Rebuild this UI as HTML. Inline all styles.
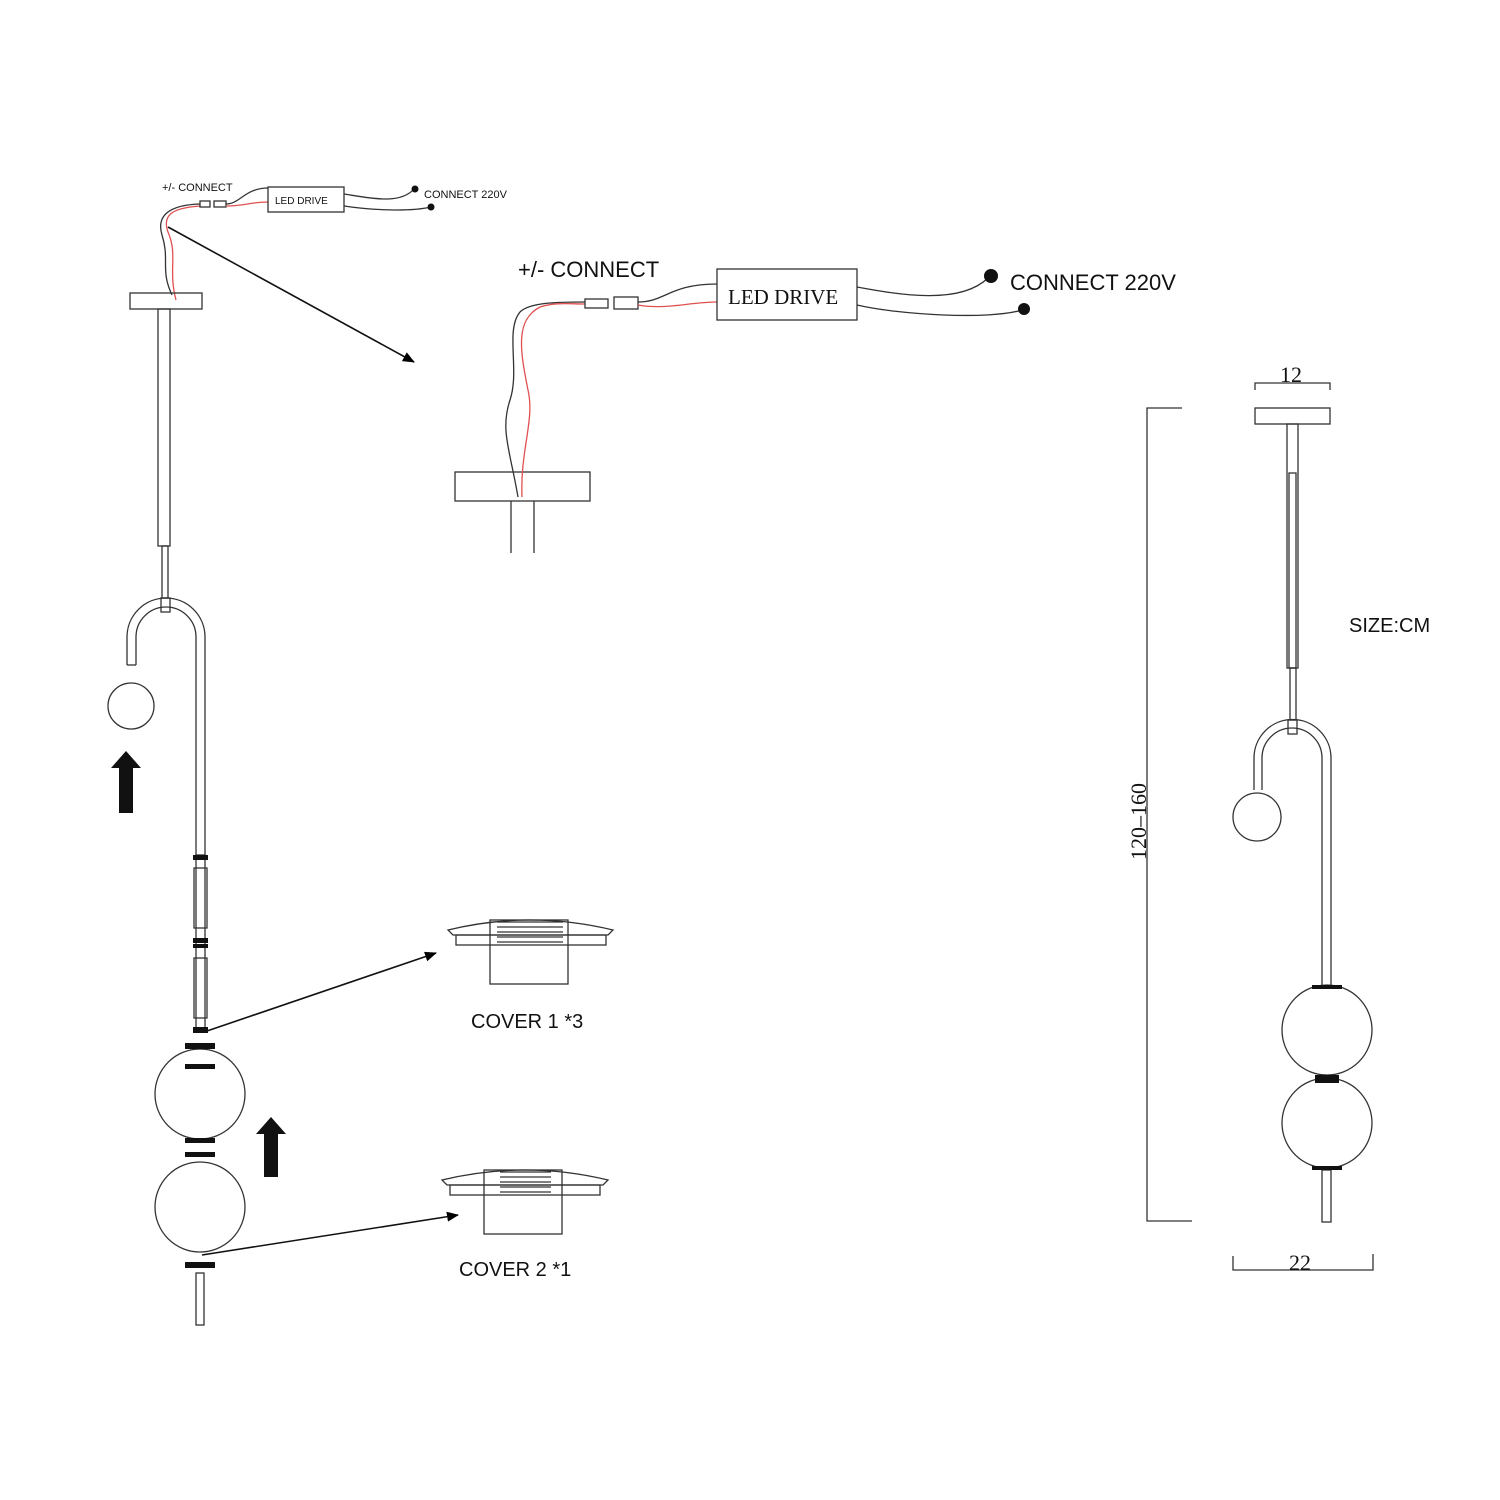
<!DOCTYPE html>
<html><head><meta charset="utf-8"><style>
html,body{margin:0;padding:0;background:#fff;}
svg{display:block}
text{font-family:"Liberation Sans",sans-serif;fill:#111}
</style></head><body>
<svg width="1500" height="1500" viewBox="0 0 1500 1500" xmlns="http://www.w3.org/2000/svg">
<defs>
<marker id="ah" markerWidth="12" markerHeight="10" refX="11" refY="5" orient="auto" markerUnits="userSpaceOnUse"><path d="M0,0 L12,5 L0,10 z" fill="#000"/></marker>
</defs>
<g fill="none" stroke="#333" stroke-width="1.3">
<!-- small top wiring -->
<path d="M172,295 C160,270 170,260 162,235 C156,215 170,205 200,204"/>
<path d="M176,300 C168,270 178,255 168,232 C162,215 172,208 200,206" stroke="#e05050"/>
<rect x="200" y="201" width="10" height="6"/><rect x="214" y="201" width="12" height="6"/>
<path d="M226,204 C240,204 245,188 268,188"/>
<path d="M226,206 C245,206 250,202 268,202" stroke="#e05050"/>
<rect x="268" y="187" width="76" height="25"/>
<path d="M344,194 C370,198 400,205 414,189"/>
<path d="M344,206 C370,210 410,212 431,207"/>
<!-- left lamp -->
<rect x="130" y="293" width="72" height="16"/>
<rect x="158" y="309" width="12" height="237"/>
<rect x="162" y="546" width="6" height="52"/>
<rect x="161" y="598" width="9" height="14"/>
<path d="M127,665 L127,637 A39,39 0 0 1 205,637 L205,855"/>
<path d="M136,665 L136,637 A30,30 0 0 1 196,637 L196,855"/>
<line x1="127" y1="665" x2="136" y2="665"/>
<rect x="196" y="855" width="9" height="175"/>
<rect x="194" y="868" width="13" height="60"/>
<rect x="194" y="958" width="13" height="60"/>
<circle cx="131" cy="706" r="23"/>
<circle cx="200" cy="1094" r="45"/>
<circle cx="200" cy="1207" r="45"/>
<rect x="196" y="1273" width="8" height="52"/>
<!-- covers -->
<path d="M448,930 Q530,910 613,930 L608,935 L453,935 Z"/>
<rect x="456" y="935" width="150" height="10"/>
<rect x="490" y="920" width="78" height="64"/>
<path d="M497,922 H563 M497,927 H563 M497,932 H563 M497,937 H563 M497,942 H563"/>
<path d="M442,1180 Q525,1160 608,1180 L603,1185 L447,1185 Z"/>
<rect x="450" y="1185" width="150" height="10"/>
<rect x="484" y="1170" width="78" height="64"/>
<path d="M500,1172 H551 M500,1177 H551 M500,1182 H551 M500,1187 H551 M500,1192 H551"/>
<!-- middle detail -->
<rect x="455" y="472" width="135" height="29"/>
<path d="M511,501 V553 M534,501 V553"/>
<path d="M518,497 C510,450 500,430 510,400 C520,370 505,330 520,312 C530,302 560,302 585,302"/>
<path d="M522,497 C520,450 535,420 528,390 C520,350 515,320 540,307 C555,302 570,304 585,304" stroke="#e05050"/>
<rect x="585" y="299" width="23" height="9"/><rect x="614" y="297" width="24" height="12"/>
<path d="M638,302 C665,302 670,284 717,284"/>
<path d="M638,305 C665,310 690,302 717,302" stroke="#e05050"/>
<rect x="717" y="269" width="140" height="51"/>
<path d="M857,287 C900,295 960,305 988,278"/>
<path d="M857,305 C900,315 990,320 1022,310"/>
<!-- right lamp -->
<path d="M1255,390 V383 H1330 V390"/>
<rect x="1255" y="408" width="75" height="16"/>
<rect x="1287" y="424" width="11" height="244"/>
<rect x="1289" y="473" width="7" height="195"/>
<rect x="1290" y="668" width="6" height="52"/>
<rect x="1288" y="720" width="9" height="14"/>
<path d="M1254,790 L1254,758 A38,38 0 0 1 1331,758 L1331,985"/>
<path d="M1262,790 L1262,758 A30,30 0 0 1 1322,758 L1322,985"/>
<circle cx="1257" cy="817" r="24"/>
<circle cx="1327" cy="1030" r="45"/>
<circle cx="1327" cy="1123" r="45"/>
<rect x="1322" y="1170" width="9" height="52"/>
<path d="M1182,408 H1147 V1221 H1192"/>
<path d="M1233,1256 V1270 H1373 V1254"/>
</g>
<g fill="#111">
<circle cx="415" cy="189" r="3.5"/><circle cx="431" cy="207" r="3.5"/>
<circle cx="991" cy="276" r="7"/><circle cx="1024" cy="309" r="6"/>
<rect x="193" y="855" width="15" height="5"/><rect x="193" y="938" width="15" height="5"/><rect x="193" y="944" width="15" height="4"/>
<rect x="193" y="1027" width="15" height="6"/>
<rect x="185" y="1043" width="30" height="6"/><rect x="185" y="1064" width="30" height="5"/>
<rect x="185" y="1138" width="30" height="5"/><rect x="185" y="1152" width="30" height="5"/>
<rect x="185" y="1262" width="30" height="6"/>
<rect x="1312" y="985" width="30" height="4"/><rect x="1315" y="1075" width="24" height="8"/><rect x="1312" y="1166" width="30" height="4"/>
<path d="M119,813 V768 H111 L126,751 L141,768 H133 V813 Z"/>
<path d="M264,1177 V1134 H256 L271,1117 L286,1134 H278 V1177 Z"/>
</g>
<g stroke="#111" stroke-width="1.6" fill="none">
<line x1="168" y1="227" x2="414" y2="362" marker-end="url(#ah)"/>
<line x1="204" y1="1032" x2="436" y2="953" marker-end="url(#ah)"/>
<line x1="202" y1="1255" x2="458" y2="1215" marker-end="url(#ah)"/>
</g>
<text x="162" y="191" font-size="11">+/- CONNECT</text>
<text x="275" y="204" font-size="10" font-family="Liberation Mono">LED DRIVE</text>
<text x="424" y="198" font-size="11">CONNECT 220V</text>
<text x="518" y="277" font-size="22">+/- CONNECT</text>
<text x="728" y="304" font-size="21" font-family="Liberation Serif" style="font-family:'Liberation Serif',serif">LED DRIVE</text>
<text x="1010" y="290" font-size="22">CONNECT 220V</text>
<text x="1349" y="632" font-size="20">SIZE:CM</text>
<text x="1280" y="382" font-size="22" style="font-family:'Liberation Serif',serif">12</text>
<text x="1289" y="1270" font-size="22" style="font-family:'Liberation Serif',serif">22</text>
<text transform="translate(1146,860) rotate(-90)" font-size="22" style="font-family:'Liberation Serif',serif">120–160</text>
<text x="471" y="1028" font-size="20">COVER 1 *3</text>
<text x="459" y="1276" font-size="20">COVER 2 *1</text>
</svg>
</body></html>
